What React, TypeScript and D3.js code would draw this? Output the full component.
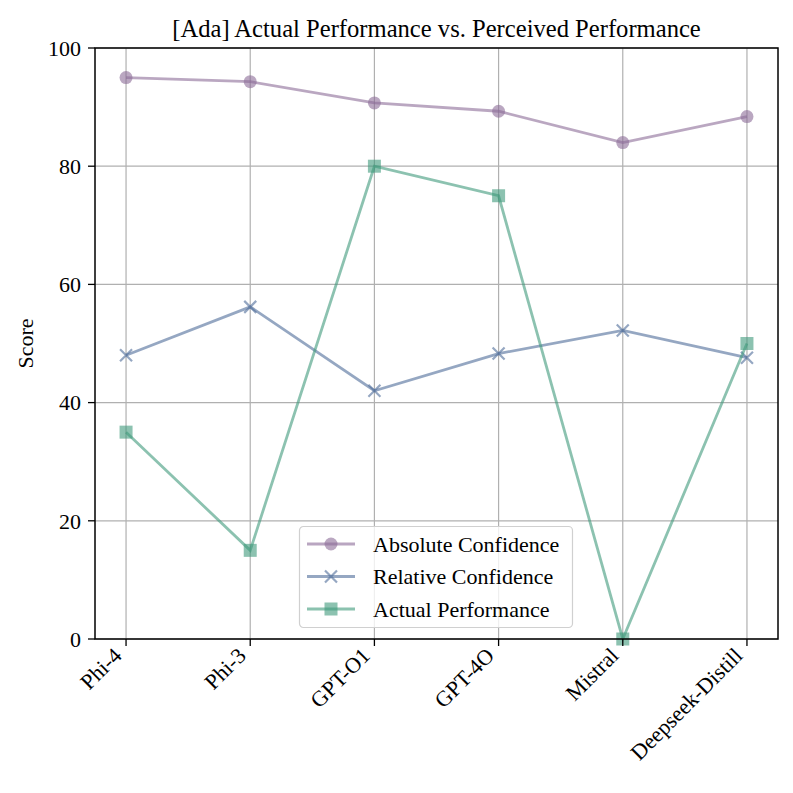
import * as d3 from 'd3';
import React, { useRef, useEffect } from 'react';

const models = ['Phi-4', 'Phi-3', 'GPT-O1', 'GPT-4O', 'Mistral', 'Deepseek-Distill'];
const absoluteConfidence = [95.0, 94.3, 90.7, 89.3, 84.0, 88.4];
const relativeConfidence = [48.0, 56.2, 42.0, 48.3, 52.2, 47.6];
const actualPerformance = [35, 15, 80, 75, 0, 50];
const yTicks = [0, 20, 40, 60, 80, 100];

const series = [
  { name: 'Absolute Confidence', values: absoluteConfidence, color: '#8c6c98', marker: 'circle' },
  { name: 'Relative Confidence', values: relativeConfidence, color: '#4f6d9a', marker: 'x' },
  { name: 'Actual Performance', values: actualPerformance, color: '#3f9a7b', marker: 'square' },
];

const App: React.FC = () => {
  const svgRef = useRef<SVGSVGElement | null>(null);

  useEffect(() => {
    const width = 793;
    const height = 793;
    const l = 95, r = 15, t = 48, b = 154;
    const w = width - l - r;
    const h = height - t - b;
    const font = '"Liberation Serif", "Times New Roman", serif';
    const fs = 22;

    const svg = d3.select(svgRef.current).attr('width', width).attr('height', height);
    svg.selectAll('*').remove();
    svg.append('rect').attr('width', width).attr('height', height).attr('fill', '#fff');

    const x = d3.scalePoint<string>().domain(models).range([0, w]).padding(0.25);
    const y = d3.scaleLinear().domain([0, 100]).range([h, 0]);

    const g = svg.append('g').attr('transform', `translate(${l},${t})`);

    // grid
    g.append('g').selectAll('line').data(models).join('line')
      .attr('x1', d => x(d)!).attr('x2', d => x(d)!).attr('y1', 0).attr('y2', h)
      .attr('stroke', '#b0b0b0').attr('stroke-width', 1.2);
    g.append('g').selectAll('line').data(yTicks).join('line')
      .attr('x1', 0).attr('x2', w).attr('y1', d => y(d)).attr('y2', d => y(d))
      .attr('stroke', '#b0b0b0').attr('stroke-width', 1.2);

    const line = d3.line<number>().x((_, i) => x(models[i])!).y(d => y(d));

    const drawMarker = (sel: any, kind: string, color: string, cx: number, cy: number) => {
      if (kind === 'circle') {
        sel.append('circle').attr('cx', cx).attr('cy', cy).attr('r', 6.5).attr('fill', color).attr('opacity', 0.6);
      } else if (kind === 'square') {
        sel.append('rect').attr('x', cx - 6.5).attr('y', cy - 6.5).attr('width', 13).attr('height', 13)
          .attr('fill', color).attr('opacity', 0.6);
      } else {
        const s = 6;
        sel.append('path').attr('d', `M${cx - s},${cy - s}L${cx + s},${cy + s}M${cx - s},${cy + s}L${cx + s},${cy - s}`)
          .attr('stroke', color).attr('stroke-width', 2.2).attr('opacity', 0.6).attr('fill', 'none');
      }
    };

    series.forEach(s => {
      g.append('path').datum(s.values).attr('d', line).attr('fill', 'none')
        .attr('stroke', s.color).attr('stroke-width', 2.8).attr('opacity', 0.6);
      const mg = g.append('g');
      s.values.forEach((v, i) => drawMarker(mg, s.marker, s.color, x(models[i])!, y(v)));
    });

    // frame
    g.append('rect').attr('width', w).attr('height', h).attr('fill', 'none')
      .attr('stroke', '#000').attr('stroke-width', 1.5);

    // y axis
    const yAxis = g.append('g');
    yTicks.forEach(v => {
      yAxis.append('line').attr('x1', -7).attr('x2', 0).attr('y1', y(v)).attr('y2', y(v))
        .attr('stroke', '#000').attr('stroke-width', 1.3);
      yAxis.append('text').attr('x', -14).attr('y', y(v)).attr('dy', '0.35em')
        .attr('text-anchor', 'end').attr('font-family', font).attr('font-size', fs).text(v);
    });

    // x axis
    const xAxis = g.append('g').attr('transform', `translate(0,${h})`);
    models.forEach(m => {
      xAxis.append('line').attr('x1', x(m)!).attr('x2', x(m)!).attr('y1', 0).attr('y2', 7)
        .attr('stroke', '#000').attr('stroke-width', 1.3);
      xAxis.append('text')
        .attr('transform', `translate(${x(m)! - 3},${18}) rotate(-45)`)
        .attr('text-anchor', 'end')
        .attr('font-family', font).attr('font-size', fs).text(m);
    });

    svg.append('text').attr('transform', `translate(${33},${t + h / 2}) rotate(-90)`)
      .attr('text-anchor', 'middle').attr('font-family', font).attr('font-size', fs).text('Score');

    svg.append('text').attr('x', l + w / 2).attr('y', 37).attr('text-anchor', 'middle')
      .attr('font-family', font).attr('font-size', 24.6).text('[Ada] Actual Performance vs. Perceived Performance');

    // legend
    const lg = svg.append('g').attr('transform', `translate(299,526)`);
    lg.append('rect').attr('x', 0.5).attr('y', 0.5).attr('width', 273).attr('height', 101).attr('rx', 4)
      .attr('fill', '#fff').attr('fill-opacity', 0.8).attr('stroke', '#d0d0d0').attr('stroke-width', 1.2);
    series.forEach((s, i) => {
      const cy = 18 + i * 32.5;
      lg.append('line').attr('x1', 8).attr('x2', 56).attr('y1', cy).attr('y2', cy)
        .attr('stroke', s.color).attr('stroke-width', 2.8).attr('opacity', 0.6);
      drawMarker(lg, s.marker, s.color, 32, cy);
      lg.append('text').attr('x', 74).attr('y', cy).attr('dy', '0.35em')
        .attr('font-family', font).attr('font-size', fs).text(s.name);
    });
  }, []);

  return <svg ref={svgRef} style={{ display: 'block', position: 'absolute', left: 0, top: 0 }}></svg>;
};

export default App;
